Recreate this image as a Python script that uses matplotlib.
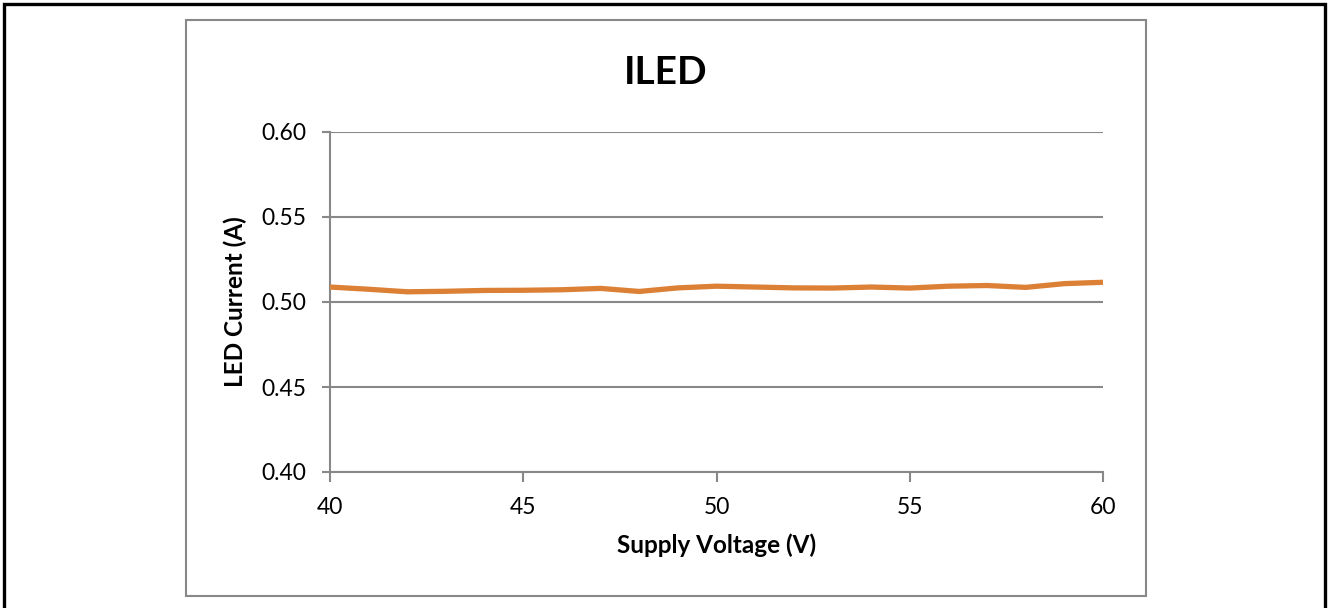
import matplotlib
matplotlib.use('Agg')
from matplotlib import pyplot as plt
from matplotlib.patches import Rectangle

plt.rcParams['font.family'] = ['Lato', 'DejaVu Sans']

# supply voltage (V) and measured LED current (A)
voltage = [40, 41, 42, 43, 44, 45, 46, 47, 48, 49, 50,
           51, 52, 53, 54, 55, 56, 57, 58, 59, 60]
current = [0.5088, 0.5075, 0.5060, 0.5063, 0.5068, 0.5069, 0.5072, 0.5080, 0.5062, 0.5083, 0.5093,
           0.5088, 0.5083, 0.5082, 0.5088, 0.5082, 0.5093, 0.5097, 0.5086, 0.5108, 0.5116]
xticks = [40, 45, 50, 55, 60]
yticks = [0.40, 0.45, 0.50, 0.55, 0.60]

W, H = 1330, 608
fig = plt.figure(figsize=(W / 100, H / 100), dpi=100)

# outer black frame and grey chart-area frame (pixel coords -> figure fraction)
def px(x0, y0, x1, y1):
    return (x0 / W, 1 - y1 / H), (x1 - x0) / W, (y1 - y0) / H

xy, w, h = px(4, 4, 1325, 612)
fig.patches.append(Rectangle(xy, w, h, transform=fig.transFigure, fill=False,
                             edgecolor='black', linewidth=2.4))
xy, w, h = px(186, 20, 1146, 596)
fig.patches.append(Rectangle(xy, w, h, transform=fig.transFigure, fill=False,
                             edgecolor='#888888', linewidth=1.5))

ax = fig.add_axes([330 / W, 1 - 472 / H, (1103 - 330) / W, (472 - 132) / H])
ax.plot(voltage, current, color='#DC8036', linewidth=3.8, solid_joinstyle='round',
        solid_capstyle='butt', zorder=3)

ax.set_xlim(40, 60)
ax.set_ylim(0.40, 0.60)
ax.set_xticks(xticks)
ax.set_yticks(yticks)
ax.set_yticklabels(['%.2f' % v for v in yticks])
ax.grid(axis='y', color='#888888', linewidth=1.5)
for s in ['top', 'right']:
    ax.spines[s].set_visible(False)
for s in ['left', 'bottom']:
    ax.spines[s].set_color('#888888')
    ax.spines[s].set_linewidth(1.5)
ax.tick_params(axis='y', length=6, width=1.5, color='#888888', pad=11, labelsize=16.5)
ax.tick_params(axis='x', length=7, width=1.5, color='#888888', pad=11, labelsize=16.5)

ax.set_xlabel('Supply Voltage (V)', fontsize=17.5, fontweight='bold', labelpad=11)
ax.set_ylabel('LED Current (A)', fontsize=17.5, fontweight='bold', labelpad=10)
fig.text(666 / W, 1 - 72 / H, 'ILED', fontsize=28, fontweight='bold',
         ha='center', va='center')

fig.savefig('out.png', dpi=100)
